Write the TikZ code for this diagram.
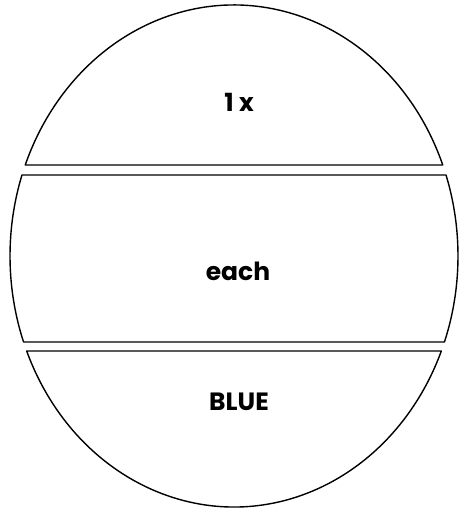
\documentclass[tikz,border=0pt]{standalone}
\usepackage{fontspec}
\setmainfont{Poppins}
\begin{document}
\begin{tikzpicture}[
  x=1pt, y=1pt,
  font=\fontsize{25}{28}\selectfont\bfseries,
  rim/.style={draw, line width=1.4pt, line join=round},
  word/.style={inner sep=0pt, anchor=center}
]
\useasboundingbox (0,0) rectangle (467,508);
\coordinate (c) at (234,252);
\pgfmathsetmacro\capA{asin(91/251)}
\pgfmathsetmacro\midA{asin(81/251)}
\pgfmathsetmacro\midB{asin(86/251)}
\pgfmathsetmacro\capB{asin(95/251)}

% top cap
\draw[rim] ([shift={(c)}]\capA:224 and 251)
  arc[start angle=\capA, end angle=180-\capA, x radius=224, y radius=251] -- cycle;

% middle band
\draw[rim] ([shift={(c)}]-\midB:224 and 251)
  arc[start angle=-\midB, end angle=\midA, x radius=224, y radius=251]
  -- ([shift={(c)}]180-\midA:224 and 251)
  arc[start angle=180-\midA, end angle=180+\midB, x radius=224, y radius=251] -- cycle;

% bottom cap
\draw[rim] ([shift={(c)}]180+\capB:224 and 251)
  arc[start angle=180+\capB, end angle=360-\capB, x radius=224, y radius=251] -- cycle;

\node[word] (once) at (239,406) {1 x};
\node[word] (each) at (238,237) {each};
\node[word] (blue) at (239,106) {BLUE};
\end{tikzpicture}
\end{document}
